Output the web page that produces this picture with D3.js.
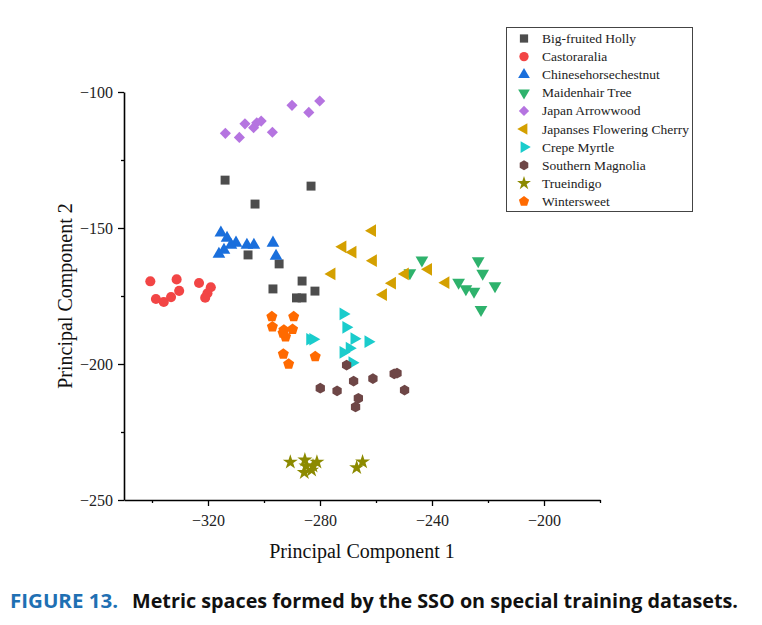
<!DOCTYPE html>
<html><head><meta charset="utf-8">
<script src="https://cdn.jsdelivr.net/npm/d3@7"></script>
<style>body{margin:0;background:#fff}svg{display:block}</style>
</head><body>
<script>
const seriesNames = ["Big-fruited Holly","Castoraralia","Chinesehorsechestnut","Maidenhair Tree","Japan Arrowwood","Japanses Flowering Cherry","Crepe Myrtle","Southern Magnolia","Trueindigo","Wintersweet"];
const bigFruitedHolly = [[-313.9,-132.4],[-283.2,-134.6],[-303.2,-141.2],[-305.7,-159.9],[-294.6,-163.2],[-286.4,-169.5],[-296.8,-172.4],[-281.8,-173.2],[-288.4,-175.7],[-286.4,-175.7]];
const castoraralia = [[-340.6,-169.6],[-338.6,-176.1],[-335.8,-177.2],[-333.2,-175.4],[-331.2,-168.9],[-330.3,-173.1],[-323.2,-170.2],[-319.0,-171.8],[-320.2,-174.0],[-321.0,-175.6]];
const chinesehorsechestnut = [[-315.4,-151.8],[-313.2,-153.7],[-310.0,-155.5],[-311.8,-156.3],[-314.3,-158.1],[-316.1,-159.6],[-306.1,-156.3],[-303.6,-156.3],[-296.8,-155.5],[-295.7,-160.3]];
const maidenhairTree = [[-243.6,-161.8],[-247.9,-166.5],[-223.5,-162.1],[-221.9,-166.7],[-230.5,-170.0],[-227.9,-172.4],[-225.0,-173.3],[-217.5,-171.3],[-222.5,-180.0]];
const japanArrowwood = [[-313.8,-115.2],[-308.8,-116.7],[-306.8,-111.7],[-303.7,-113.1],[-302.6,-111.3],[-301.0,-110.7],[-297.0,-114.8],[-290.0,-104.9],[-284.0,-107.5],[-280.1,-103.3]];
const floweringCherry = [[-261.3,-151.0],[-271.9,-156.9],[-268.3,-158.9],[-261.0,-162.0],[-275.8,-166.9],[-249.6,-166.9],[-241.3,-165.2],[-254.2,-170.3],[-257.4,-174.5],[-235.1,-170.1]];
const crepeMyrtle = [[-271.7,-181.6],[-270.7,-186.5],[-267.8,-190.7],[-262.8,-191.8],[-283.6,-190.9],[-282.5,-190.9],[-271.7,-195.7],[-269.5,-194.2],[-268.5,-199.5]];
const southernMagnolia = [[-270.5,-200.4],[-268.0,-206.3],[-261.1,-205.4],[-253.5,-203.6],[-252.5,-203.4],[-249.8,-209.6],[-279.9,-208.9],[-273.9,-209.9],[-266.3,-212.6],[-267.3,-215.8]];
const trueindigo = [[-290.6,-236.1],[-285.4,-235.3],[-281.1,-236.1],[-283.0,-239.0],[-285.6,-239.9],[-285.0,-237.5],[-282.5,-237.5],[-266.9,-238.1],[-264.8,-236.0]];
const wintersweet = [[-297.2,-182.6],[-289.4,-182.6],[-297.0,-186.3],[-292.9,-187.5],[-289.8,-187.2],[-292.3,-190.0],[-293.2,-188.6],[-293.1,-196.3],[-291.2,-200.0],[-281.7,-197.3]];
const seriesData = [bigFruitedHolly,castoraralia,chinesehorsechestnut,maidenhairTree,japanArrowwood,floweringCherry,crepeMyrtle,southernMagnolia,trueindigo,wintersweet];
const xTicks = [-320,-280,-240,-200];
const xMinorTicks = [-340,-300,-260,-220,-180];
const yTicks = [-100,-150,-200,-250];
const yMinorTicks = [-125,-175,-225];

const colors = ["#4d4d4d","#f24545","#1a6fdc","#2eb26c","#b574e0","#d4a000","#1acccc","#6e4646","#8c8a00","#ff6a00"];

function polygonSymbol(n, rot){
  return {draw(ctx,size){
    const r = Math.sqrt(size/(0.5*n*Math.sin(2*Math.PI/n)));
    for(let i=0;i<n;i++){
      const a = rot + i*2*Math.PI/n;
      const x = r*Math.cos(a), y = r*Math.sin(a);
      if(i===0) ctx.moveTo(x,y); else ctx.lineTo(x,y);
    }
    ctx.closePath();
  }};
}
const hexagon = polygonSymbol(6, -Math.PI/2);
const pentagon = polygonSymbol(5, -Math.PI/2);
const symbolSpec = [
  [d3.symbolSquare, 80, 0],
  [d3.symbolCircle, 80, 0],
  [d3.symbolTriangle, 70, 0],
  [d3.symbolTriangle, 70, 180],
  [d3.symbolSquare, 62, 45],
  [d3.symbolTriangle, 70, -90],
  [d3.symbolTriangle, 70, 90],
  [hexagon, 75, 0],
  [d3.symbolStar, 70, 0],
  [pentagon, 80, 0]
];

const W=762,H=625;
const svg = d3.select("body").append("svg").attr("width",W).attr("height",H);
const x = d3.scaleLinear().domain([-350,-180]).range([124,600]);
const y = d3.scaleLinear().domain([-250,-100]).range([500,92]);
const fmt = d => "\u2212" + Math.abs(d);
const serif = "'Liberation Serif','Times New Roman',serif";

seriesData.forEach((pts,i)=>{
  const [t,s,r] = symbolSpec[i];
  svg.append("g").selectAll("path").data(pts).join("path")
    .attr("d", d3.symbol(t,s))
    .attr("transform", d=>`translate(${x(d[0])},${y(d[1])}) rotate(${r})`)
    .attr("fill", colors[i]);
});

const gx = svg.append("g").attr("transform","translate(0,500)")
  .call(d3.axisBottom(x).tickValues(xTicks).tickSize(6).tickPadding(9).tickFormat(fmt).tickSizeOuter(0));
const gxm = svg.append("g").attr("transform","translate(0,500)")
  .call(d3.axisBottom(x).tickValues(xMinorTicks).tickSize(3).tickFormat("").tickSizeOuter(0));
const gy = svg.append("g").attr("transform","translate(124,0)")
  .call(d3.axisLeft(y).tickValues(yTicks).tickSize(6).tickPadding(5).tickFormat(fmt).tickSizeOuter(0));
const gym = svg.append("g").attr("transform","translate(124,0)")
  .call(d3.axisLeft(y).tickValues(yMinorTicks).tickSize(3).tickFormat("").tickSizeOuter(0));
[gx,gxm,gy,gym].forEach(g=>{
  g.attr("font-family",serif).attr("font-size",16);
  g.selectAll(".domain").attr("stroke","#000").attr("stroke-width",1.6);
  g.selectAll(".tick line").attr("stroke","#000").attr("stroke-width",1.3);
  g.selectAll("text").attr("font-family",serif).attr("font-size",16).attr("fill","#222");
});
gxm.select(".domain").remove(); gym.select(".domain").remove();

svg.append("text").attr("x",362).attr("y",558).attr("text-anchor","middle")
  .attr("font-family",serif).attr("font-size",20).attr("fill","#111").text("Principal Component 1");
svg.append("text").attr("transform","translate(72,296) rotate(-90)").attr("text-anchor","middle")
  .attr("font-family",serif).attr("font-size",20).attr("fill","#111").text("Principal Component 2");

const lg = svg.append("g");
lg.append("rect").attr("x",506.5).attr("y",27.5).attr("width",186).attr("height",184)
  .attr("fill","#fff").attr("stroke","#444").attr("stroke-width",1);
seriesNames.forEach((n,i)=>{
  const cy = 38.5 + i*18.1;
  const [t,s,r] = symbolSpec[i];
  lg.append("path").attr("d",d3.symbol(t,s*0.85)).attr("transform",`translate(524,${cy}) rotate(${r})`).attr("fill",colors[i]);
  lg.append("text").attr("x",542).attr("y",cy+4.5).attr("font-family",serif).attr("font-size",13.5)
    .attr("fill","#222").text(n);
});

svg.append("text").attr("x",10).attr("y",608).attr("font-family","'Open Sans','Noto Sans',sans-serif")
  .attr("font-weight","bold").attr("font-size",19).attr("fill","#1f70b3")
  .attr("textLength",108).attr("lengthAdjust","spacingAndGlyphs").text("FIGURE 13.");
svg.append("text").attr("x",132).attr("y",608).attr("font-family","'Open Sans','Noto Sans',sans-serif")
  .attr("font-weight","bold").attr("font-size",19).attr("fill","#111")
  .attr("textLength",606).attr("lengthAdjust","spacingAndGlyphs").text("Metric spaces formed by the SSO on special training datasets.");
</script>
</body></html>
